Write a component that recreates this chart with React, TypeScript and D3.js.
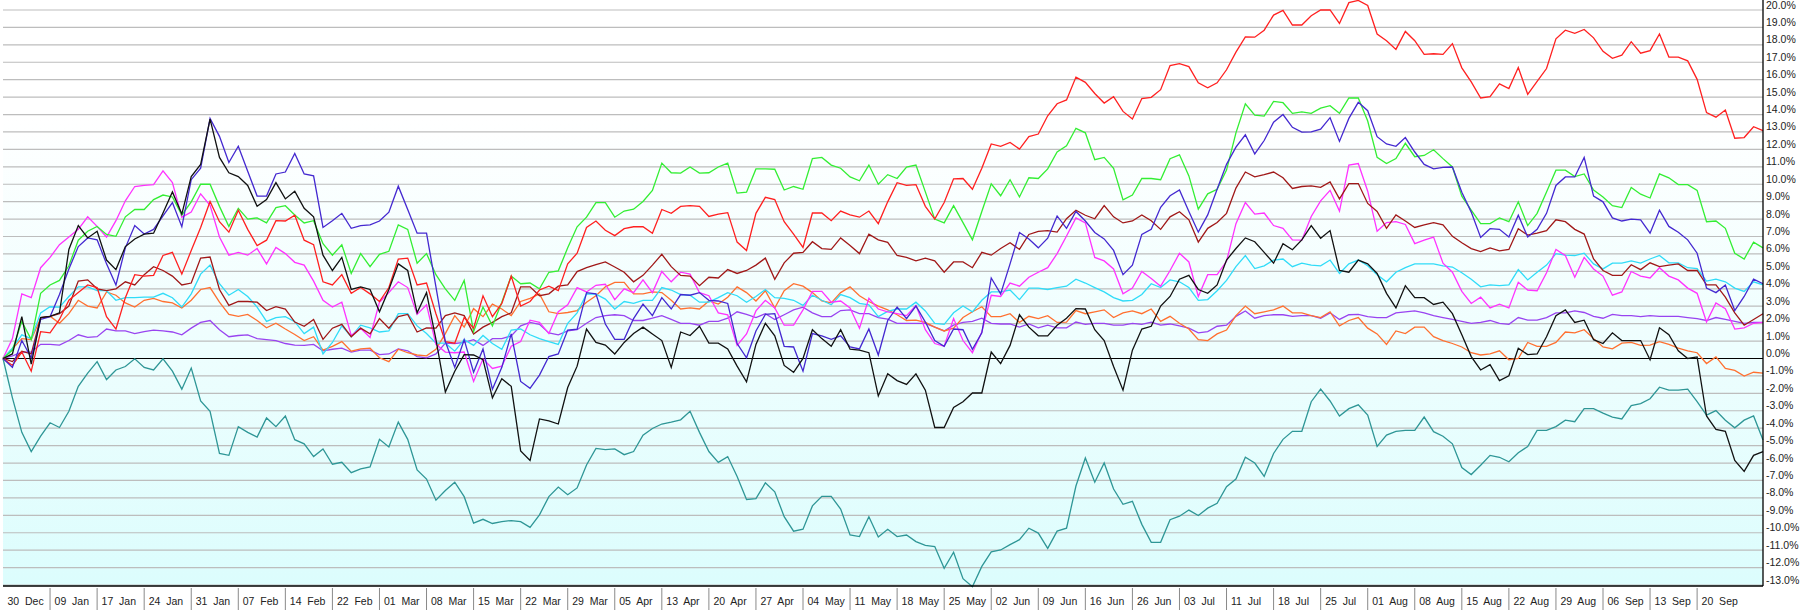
import React from 'react';
import * as d3 from 'd3';

const tickLabels = ['30 Dec','09 Jan','17 Jan','24 Jan','31 Jan','07 Feb','14 Feb','22 Feb','01 Mar','08 Mar','15 Mar','22 Mar','29 Mar','05 Apr','13 Apr','20 Apr','27 Apr','04 May','11 May','18 May','25 May','02 Jun','09 Jun','16 Jun','26 Jun','03 Jul','11 Jul','18 Jul','25 Jul','01 Aug','08 Aug','15 Aug','22 Aug','29 Aug','06 Sep','13 Sep','20 Sep'];
const tickStep = 5;
const pointCount = 188;
const yMin = -13;
const yMax = 20;

const red = [0,-0.40,0.37,-0.73,1.54,1.47,2.24,3.34,3.78,4.22,
4.07,2.40,1.69,3.49,4.81,4.73,4.77,5.91,6.09,4.84,
6.20,7.52,9.01,7.85,7.25,8.51,7.41,6.48,6.79,7.91,
7.89,8.22,6.79,6.53,4.40,4.22,4.81,3.74,4.07,3.71,
3.27,4.07,5.71,5.76,4.22,4.33,2.57,0.97,0.88,2.35,
1.74,3.60,2.40,3.16,4.73,3.01,3.27,3.93,4.15,3.89,
5.43,6.04,7.52,7.89,7.36,7.05,7.45,7.56,7.56,7.19,
8.55,8.33,8.73,8.77,8.73,8.15,8.29,8.37,6.68,6.20,
8.33,9.25,9.12,7.85,7.14,6.37,8.35,8.35,7.91,8.46,
8.24,8.11,8.46,7.74,8.99,10.09,9.93,9.98,8.73,8.00,
8.95,10.31,10.33,9.71,10.92,12.31,12.18,12.40,12.02,12.73,
12.88,13.93,14.62,14.84,16.15,15.85,15.21,14.66,15.03,14.18,
13.74,14.92,14.99,15.43,16.81,16.92,16.75,15.82,15.54,15.82,
16.57,17.58,18.46,18.44,18.84,19.71,19.98,19.14,19.14,19.67,
20.00,20.00,19.23,20.42,20.55,20.26,18.62,18.24,17.74,18.77,
18.24,17.45,17.49,17.45,18.07,16.68,15.87,14.95,15.03,15.76,
15.49,16.70,15.16,15.91,16.64,18.35,18.84,18.66,18.88,18.40,
17.63,17.23,17.41,18.18,17.52,17.67,18.62,17.30,17.30,17.08,
16.02,14.11,13.85,14.26,12.64,12.68,13.30,13.08];

const green = [0,0.48,2.13,1.08,3.74,4.22,4.48,5.32,6.79,7.30,
7.58,7.12,7.01,8.13,8.55,8.55,9.12,9.38,9.27,8.24,
8.99,10.00,10.00,8.73,7.58,8.62,8.00,8.07,7.78,8.66,
8.77,8.24,7.78,7.91,6.59,5.93,6.53,4.88,6.02,5.27,
5.98,6.15,7.67,7.41,5.47,6.02,4.81,4.00,3.34,4.48,
1.54,2.95,1.87,3.23,4.73,4.29,4.33,4.00,4.95,5.03,
6.35,7.56,8.11,8.95,8.95,8.11,8.46,8.57,9.01,9.65,
11.21,10.66,10.64,10.99,10.64,10.66,10.99,11.21,9.49,9.54,
10.88,10.88,10.86,9.67,9.87,9.71,11.47,11.54,11.10,10.92,
10.42,10.20,11.10,10.00,10.55,10.33,10.99,11.10,9.56,8.00,
7.78,8.77,7.80,6.81,8.44,10.02,9.34,10.26,9.27,10.37,
10.33,10.88,11.85,12.20,13.21,12.95,11.41,11.54,10.92,9.10,
9.38,10.33,10.33,10.26,11.47,11.69,10.48,8.57,9.45,9.71,
10.81,12.95,14.62,13.96,13.91,14.75,14.68,14.07,14.15,14.07,
14.37,14.51,14.07,14.95,14.95,13.63,11.54,11.19,11.47,12.35,
11.58,11.65,11.98,11.47,10.99,9.32,8.51,7.74,7.74,8.07,
7.85,8.99,7.63,8.33,9.56,10.81,10.81,10.44,10.59,9.67,
9.27,8.77,8.66,9.82,9.43,9.21,10.59,10.37,9.98,9.98,
9.65,7.85,7.89,7.47,6.04,5.71,6.68,6.35];

const blue = [0,-0.51,1.03,0.04,2.24,2.40,3.67,5.14,6.42,6.92,
6.81,5.43,4.22,6.35,7.63,7.14,7.41,8.18,8.95,7.56,
10.26,10.92,13.78,12.75,11.25,12.18,10.75,9.32,9.32,10.59,
10.70,11.76,10.59,10.48,7.52,7.91,8.33,7.47,7.63,7.67,
7.89,8.40,9.89,8.55,7.19,7.19,4.11,0.97,-0.51,1.08,
-0.79,0.55,-1.76,-0.51,1.41,-1.32,-1.71,-0.95,0.11,0.26,
1.63,1.69,3.78,3.71,1.98,1.10,1.10,2.29,3.12,2.46,
3.49,2.84,3.67,3.63,3.78,3.34,3.30,3.16,0.86,0.04,
1.58,2.53,2.57,0.70,0.66,-0.73,1.43,1.30,1.10,1.30,
0.66,0.55,1.69,0.20,2.18,2.95,2.29,3.01,2.09,1.03,
0.70,1.69,1.65,0.53,1.47,4.62,3.71,5.43,7.23,6.86,
6.35,6.90,8.18,7.47,8.44,7.89,7.23,6.86,6.20,4.81,
5.36,7.12,7.41,8.68,9.34,9.67,8.44,7.25,8.24,9.71,
11.14,12.13,12.84,11.74,12.51,13.56,14.00,13.27,12.99,13.01,
13.16,13.82,12.46,13.78,14.70,14.22,12.73,12.31,12.18,12.68,
11.85,11.14,10.88,10.97,10.99,9.54,8.40,6.95,7.45,7.41,
6.97,8.22,6.97,7.41,8.33,9.93,10.42,10.42,11.54,9.32,
8.99,8.07,7.89,8.00,7.96,7.19,8.51,7.58,7.25,6.81,
6.04,4.04,3.78,4.22,2.75,3.56,4.55,4.29];

const black = [0,0.26,2.40,-0.33,2.35,2.42,2.62,6.26,7.63,6.92,
7.30,5.65,5.10,6.42,6.86,7.14,7.19,8.35,9.56,8.29,
10.44,11.14,13.74,11.54,10.66,10.44,9.93,8.73,9.12,10.09,
9.16,9.60,8.62,8.13,5.93,5.05,5.80,3.96,4.11,3.96,
2.68,3.96,5.43,5.05,2.62,3.78,1.10,-1.93,-0.73,0.22,
0.20,-0.07,-2.26,-1.16,-1.60,-5.30,-5.85,-3.47,-3.58,-3.76,
-1.67,-0.44,1.69,0.92,0.77,0.26,0.92,1.43,1.80,1.41,
1.03,-0.51,1.52,1.32,1.85,0.88,0.88,0.55,-0.44,-1.34,
0.81,2.02,1.30,-0.40,-0.79,0,1.65,1.14,0.70,1.65,
0.53,0.48,0.33,-2.15,-0.88,-1.27,-1.49,-0.88,-1.82,-3.96,
-3.96,-2.81,-2.48,-1.98,-1.98,0.37,-0.29,0.75,2.51,1.80,
1.30,1.30,1.91,2.31,2.86,2.84,1.65,1.03,-0.46,-1.82,
0.48,1.69,1.85,3.01,3.56,4.55,4.77,3.96,3.74,4.22,
5.65,6.31,6.92,6.70,6.09,5.47,6.59,6.24,6.81,7.63,
6.90,7.34,5.05,4.95,5.65,5.43,4.88,3.74,2.90,4.18,
3.49,3.49,3.10,3.23,2.57,1.36,0.11,-0.66,-0.35,-1.27,
-0.99,0.59,0.22,0.26,1.25,2.46,2.79,2.07,2.20,1.08,
0.86,1.47,1.03,1.03,1.03,-0.07,1.76,1.36,0.44,0,
0.09,-3.30,-4.07,-4.18,-5.85,-6.48,-5.56,-5.34];

const maroon = [0,-0.18,0.42,0.26,2.35,2.42,2.57,3.01,4.44,4.51,
4.00,3.89,4.00,4.40,4.22,4.81,5.27,5.05,4.73,4.22,
4.33,5.76,5.82,3.96,3.05,3.27,3.27,3.23,2.75,2.97,
2.84,2.09,1.85,2.24,1.10,1.74,1.96,1.25,1.74,1.41,
2.29,1.74,2.40,2.53,1.52,1.76,1.74,2.46,2.62,2.46,
1.41,1.80,2.07,2.40,2.62,4.11,4.11,3.60,3.71,4.15,
4.22,4.99,5.21,5.38,5.54,5.25,4.95,4.40,4.77,5.36,
5.98,5.27,4.77,4.73,4.18,4.66,4.62,5.10,4.88,5.05,
5.36,5.76,4.55,5.49,6.04,6.09,6.70,6.31,6.26,6.92,
6.48,6.02,7.14,6.81,6.66,5.91,5.80,5.60,5.76,5.60,
4.95,5.54,5.54,5.21,6.09,5.93,6.31,6.64,6.26,7.12,
7.30,7.34,7.25,8.02,8.51,8.22,8.02,8.77,8.13,7.78,
7.89,8.24,7.91,7.41,8.13,8.42,7.96,6.68,7.47,7.80,
8.33,9.78,10.70,10.42,10.55,10.70,10.37,9.76,9.87,9.91,
9.82,10.13,9.16,10.04,10.04,8.90,8.44,7.47,8.24,7.89,
7.52,7.67,7.80,7.67,7.01,6.64,6.31,6.13,6.35,6.18,
6.26,7.45,7.08,7.19,7.34,7.96,7.85,7.41,7.14,5.71,
5.05,4.77,4.77,5.38,5.10,5.49,5.27,5.36,5.43,5.05,
5.05,4.22,4.22,3.52,2.62,1.91,2.24,2.57];

const magenta = [0,1.14,3.71,3.49,5.21,5.80,6.53,6.97,7.41,8.13,
7.58,6.97,7.91,9.05,9.87,9.93,9.98,10.77,10.09,8.11,
8.40,9.45,8.79,6.97,5.93,6.09,5.93,6.31,5.43,6.37,
6.02,5.52,5.36,4.44,3.34,2.95,3.23,1.32,1.74,1.21,
3.23,3.78,4.40,4.07,2.53,3.08,0.81,0.37,0.33,0.37,
-1.32,-0.02,-0.57,-0.44,0.70,0.97,2.20,2.07,1.43,2.68,
3.08,4.07,3.82,4.20,4.26,3.38,4.00,3.78,4.51,3.78,
4.99,4.40,4.95,4.84,3.78,3.60,2.62,2.51,0.75,1.41,
2.73,3.34,2.90,1.91,1.91,2.79,3.85,3.85,3.23,3.30,
2.90,1.74,3.45,2.84,2.68,2.57,2.46,3.05,1.65,0.86,
0.70,2.29,1.03,0.33,1.52,3.63,3.56,4.33,4.15,4.66,
4.95,5.21,6.02,7.03,8.07,7.78,5.80,5.60,5.14,3.71,
4.04,4.99,4.59,4.15,5.05,6.04,5.54,3.56,4.81,4.81,
5.58,7.74,8.95,8.29,8.35,7.63,7.47,6.81,6.79,8.15,
9.05,9.65,8.46,11.10,11.19,9.60,7.30,7.80,7.85,7.69,
6.59,6.79,6.97,5.47,4.95,3.85,3.16,3.52,2.90,3.12,
2.90,4.37,3.93,3.89,4.92,6.26,5.91,4.66,5.80,5.14,
4.73,3.63,3.82,4.99,4.73,4.62,5.21,4.73,4.51,4.04,
3.74,2.09,3.19,2.86,1.69,1.76,2.02,2.07];

const cyan = [0,0.59,1.36,1.14,2.62,2.97,2.95,3.56,4.11,4.11,
3.89,3.89,3.34,3.49,3.49,3.52,3.52,3.74,3.49,2.95,
3.71,4.84,5.36,4.29,3.63,3.96,3.56,2.95,2.13,2.35,
2.40,2.11,1.43,1.80,0.26,0.92,1.87,1.25,1.91,1.76,
1.52,1.58,2.57,2.57,1.87,1.43,0.88,0.88,0.42,1.08,
0.75,1.32,0.86,0.53,1.63,1.69,1.36,1.14,0.97,0.81,
2.02,2.62,3.71,3.69,3.41,2.84,3.27,3.16,3.34,3.34,
4.07,3.93,3.67,3.63,3.23,3.23,3.49,3.78,3.60,3.23,
3.56,3.96,3.49,3.45,3.34,3.05,3.63,3.34,3.08,3.67,
3.49,3.16,3.08,2.40,2.70,2.84,2.84,3.23,2.73,2.02,
1.96,2.62,3.01,2.68,3.34,3.82,3.82,3.93,3.38,4.04,
4.04,3.96,4.07,4.15,4.55,4.33,4.07,3.82,3.49,3.30,
3.34,3.67,4.29,4.07,4.51,4.40,4.07,3.34,3.38,3.89,
4.48,5.27,5.91,5.16,5.32,5.65,5.71,5.27,5.47,5.36,
5.32,5.65,4.88,5.43,5.65,5.32,4.81,4.40,4.95,5.21,
5.43,5.43,5.43,5.32,5.25,4.92,4.55,4.11,4.22,4.18,
4.22,5.10,4.51,4.95,5.36,6.02,5.93,5.91,6.04,5.43,
5.14,5.47,5.47,5.60,5.47,5.71,5.91,5.49,5.49,5.21,
5.16,4.44,4.55,4.40,4.04,3.85,4.40,4.22];

const orange = [0,0.55,1.14,1.08,2.31,2.42,2.02,2.57,3.34,3.01,
2.90,3.82,3.63,3.19,2.95,3.34,3.45,3.27,3.19,2.90,
3.34,3.96,4.07,3.23,2.53,2.42,2.53,2.18,1.76,2.02,
1.69,1.38,1.03,1.25,0.48,0.70,0.97,0.42,0.55,0.59,
0.04,-0.18,0.53,0.33,0.20,0.15,0.53,1.43,2.46,1.80,
2.86,2.40,3.12,2.84,2.46,3.27,3.45,3.71,2.68,2.57,
2.64,2.75,3.23,3.60,4.11,4.37,4.37,3.71,3.71,3.82,
3.78,3.34,2.84,2.90,2.84,3.30,3.12,3.52,4.11,3.78,
3.30,3.89,2.90,3.89,4.29,4.15,3.78,3.30,3.19,3.78,
4.11,3.60,3.27,3.01,2.79,2.51,2.18,2.20,2.07,1.80,
1.58,1.74,2.35,2.68,2.97,2.40,2.40,2.57,2.07,2.42,
2.29,2.46,2.07,2.09,2.75,2.57,2.68,2.79,2.35,2.62,
2.73,2.57,2.84,2.13,2.42,2.02,1.69,1.08,1.03,1.41,
1.63,2.46,3.01,2.57,2.68,2.79,3.01,2.62,2.62,2.46,
2.35,2.68,1.87,2.18,2.35,1.74,1.41,0.81,1.58,1.43,
1.80,1.80,1.25,1.03,0.86,0.66,0.33,0.20,0.26,0.44,
-0.07,0,0.92,0.70,0.70,0.92,1.52,1.47,1.65,1.14,
0.66,0.55,0.88,0.92,0.75,0.77,0.97,0.81,0.59,0.44,
0.33,-0.29,0.09,-0.57,-0.68,-1.01,-0.79,-0.84];

const purple = [0,0.15,0.37,0.37,0.81,0.81,0.77,1.03,1.36,1.21,
1.25,1.69,1.58,1.58,1.43,1.54,1.63,1.58,1.52,1.36,
1.74,2.07,2.18,1.65,1.25,1.32,1.36,1.14,1.08,1.03,
0.86,0.77,0.75,0.81,0.44,0.53,0.59,0.37,0.48,0.48,
0.22,0.26,0.55,0.44,0.11,0.04,0.26,0.88,0.86,0.92,
1.08,0.75,1.14,1.14,1.30,1.87,2.07,1.96,1.47,1.36,
1.58,1.65,2.02,2.35,2.46,2.51,2.46,2.18,2.18,2.31,
2.46,2.24,2.02,2.02,1.91,2.13,2.13,2.31,2.68,2.53,
2.35,2.57,2.24,2.51,2.79,2.95,2.62,2.40,2.40,2.75,
2.79,2.57,2.57,2.35,2.26,2.02,2.02,2.02,2.02,1.80,
1.58,1.91,2.07,2.13,2.31,2.02,1.98,1.98,1.80,1.98,
1.76,1.91,1.76,1.76,2.09,1.96,2.02,2.02,1.91,1.91,
2.02,1.96,2.09,1.91,1.98,1.87,1.74,1.47,1.54,1.85,
1.91,2.42,2.73,2.31,2.46,2.51,2.51,2.42,2.46,2.46,
2.31,2.62,2.24,2.51,2.53,2.40,2.35,2.35,2.62,2.68,
2.73,2.62,2.46,2.35,2.24,2.13,2.02,2.07,2.18,2.02,
1.96,2.35,2.20,2.20,2.35,2.62,2.62,2.73,2.64,2.42,
2.31,2.53,2.46,2.46,2.40,2.46,2.42,2.42,2.42,2.35,
2.29,2.18,2.35,2.24,2.13,2.02,2.07,2.07];

const teal = [0,-2.26,-4.24,-5.34,-4.46,-3.69,-3.96,-3.03,-1.60,-0.84,
-0.18,-1.21,-0.66,-0.46,-0.02,-0.51,-0.66,-0.02,-0.73,-1.76,
-0.55,-2.44,-3.03,-5.45,-5.56,-3.91,-4.24,-4.51,-3.41,-3.91,
-3.30,-4.66,-4.90,-5.63,-5.19,-6.07,-5.96,-6.55,-6.33,-6.22,
-4.64,-5.08,-3.65,-4.64,-6.40,-6.92,-8.13,-7.58,-7.10,-7.93,
-9.45,-9.23,-9.47,-9.36,-9.30,-9.36,-9.69,-8.97,-7.93,-7.38,
-7.82,-7.43,-6.11,-5.16,-5.23,-5.19,-5.52,-5.34,-4.40,-4.02,
-3.76,-3.65,-3.52,-3.03,-4.24,-5.34,-5.96,-5.63,-6.77,-8.09,
-8.04,-7.14,-7.65,-9.08,-9.91,-9.80,-8.46,-7.91,-7.91,-8.64,
-10.13,-10.22,-9.08,-10.24,-9.80,-10.22,-10.13,-10.51,-10.73,-10.79,
-12.04,-11.12,-12.64,-13.10,-11.93,-11.10,-10.99,-10.68,-10.40,-9.74,
-10.02,-10.90,-9.91,-9.74,-7.32,-5.71,-7.10,-6.00,-7.49,-8.37,
-8.20,-9.52,-10.55,-10.55,-9.25,-9.05,-8.70,-9.01,-8.59,-8.31,
-7.36,-6.92,-5.67,-6.00,-6.77,-5.45,-4.64,-4.18,-4.18,-2.48,
-1.76,-2.44,-3.30,-2.88,-2.66,-3.25,-5.05,-4.40,-4.18,-4.13,
-4.13,-3.36,-4.20,-4.46,-4.90,-6.26,-6.66,-6.13,-5.56,-5.67,
-5.93,-5.41,-5.05,-4.13,-4.13,-3.91,-3.54,-3.63,-2.88,-2.88,
-3.14,-3.36,-3.47,-2.70,-2.59,-2.31,-1.65,-1.82,-1.82,-1.76,
-2.48,-3.25,-2.99,-3.54,-3.98,-3.54,-3.30,-4.68];

const seriesList = [
  { key: 'teal', color: '#2e9696', values: teal },
  { key: 'purple', color: '#9944f0', values: purple },
  { key: 'orange', color: '#ff7030', values: orange },
  { key: 'cyan', color: '#30dcf8', values: cyan },
  { key: 'magenta', color: '#ff33ff', values: magenta },
  { key: 'maroon', color: '#a01818', values: maroon },
  { key: 'green', color: '#33ee33', values: green },
  { key: 'red', color: '#ff2020', values: red },
  { key: 'blue', color: '#4428d0', values: blue },
  { key: 'black', color: '#111111', values: black },
];

export default function App() {
  const W = 1804;
  const H = 610;
  const left = 3;
  const right = 1763;
  const bottom = 586;
  const x = d3.scaleLinear().domain([0, pointCount - 1]).range([left, right]);
  const y = d3.scaleLinear().domain([yMin, yMax]).range([585, 10]);
  const line = d3.line<number>().x((_, i) => x(i)).y((d) => y(d));
  const grid = d3.range(yMin, yMax + 1);
  const font = 'Arial, "Liberation Sans", sans-serif';

  return (
    <div style={{ position: 'absolute', left: 0, top: 0 }}>
      <svg width={W} height={H} style={{ display: 'block', background: '#ffffff' }}>
        <defs>
          <linearGradient id="bg" x1="0" y1="0" x2="0" y2="1">
            <stop offset="0" stopColor="#ffffff" />
            <stop offset="0.2" stopColor="#ffffff" />
            <stop offset="1" stopColor="#dcfdfd" />
          </linearGradient>
        </defs>
        <rect x={left} y={0} width={right - left} height={bottom} fill="url(#bg)" />
        {grid.map((v) => (
          <line key={'g' + v} x1={left} x2={right} y1={y(v)} y2={y(v)}
            stroke={v === 0 ? '#000000' : '#bdbdbd'} strokeWidth={1.2} />
        ))}
        {seriesList.map((s) => (
          <path key={s.key} d={line(s.values) || ''} fill="none" stroke={s.color}
            strokeWidth={1.3} strokeLinejoin="miter" />
        ))}
        <line x1={right} x2={right} y1={0} y2={bottom} stroke="#000" strokeWidth={1.3} />
        <line x1={left} x2={right} y1={bottom} y2={bottom} stroke="#000" strokeWidth={1.3} />
        {grid.map((v) => (
          <text key={'l' + v} x={right + 3} y={Math.max(y(v) - 1.5, 9)} fontSize={10.5} fontFamily={font} fill="#222">
            {v.toFixed(1) + '%'}
          </text>
        ))}
        {tickLabels.map((t, k) => {
          const xi = x(k * tickStep);
          return (
            <g key={'t' + k}>
              {k > 0 && <line x1={xi} x2={xi} y1={bottom + 2} y2={H} stroke="#8a8a8a" strokeWidth={1} />}
              <text x={xi + 4.5} y={605} fontSize={10.5} fontFamily={font} fill="#222" style={{ whiteSpace: 'pre' }}>
                {t.replace(' ', '  ')}
              </text>
            </g>
          );
        })}
      </svg>
    </div>
  );
}
